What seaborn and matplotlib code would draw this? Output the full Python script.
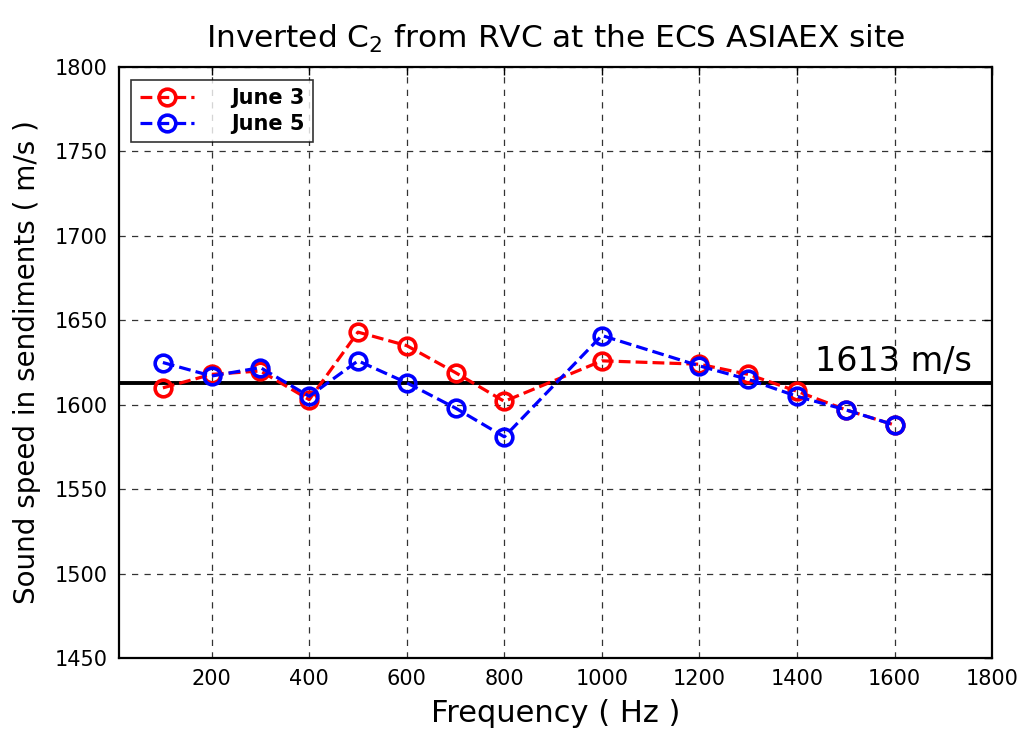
import matplotlib
matplotlib.use('Agg')
import matplotlib.pyplot as plt
import seaborn as sns
import pandas as pd

# frequencies (Hz) and inverted sound speeds (m/s)
freq_june3 = [100, 200, 300, 400, 500, 600, 700, 800, 1000, 1200, 1300, 1400, 1500, 1600]
speed_june3 = [1610, 1618, 1620, 1603, 1643, 1635, 1619, 1602, 1626, 1624, 1618, 1608, 1597, 1588]
freq_june5 = [100, 200, 300, 400, 500, 600, 700, 800, 1000, 1200, 1300, 1400, 1500, 1600]
speed_june5 = [1625, 1617, 1622, 1605, 1626, 1613, 1598, 1581, 1641, 1623, 1615, 1605, 1597, 1588]
mean_speed = 1613
x_ticks = [200, 400, 600, 800, 1000, 1200, 1400, 1600, 1800]
y_ticks = [1450, 1500, 1550, 1600, 1650, 1700, 1750, 1800]

sns.set_style('white')
plt.rcParams['font.family'] = ['DejaVu Sans']
plt.rcParams['text.color'] = 'black'
plt.rcParams['axes.labelcolor'] = 'black'

df3 = pd.DataFrame({'freq': freq_june3, 'speed': speed_june3})
df5 = pd.DataFrame({'freq': freq_june5, 'speed': speed_june5})

fig = plt.figure(figsize=(10.24, 7.34), dpi=100)
ax = fig.add_axes([0.1162, 0.1035, 0.8526, 0.8052])

line_kw = dict(linestyle='--', linewidth=2.3, marker='o', markersize=12,
               markerfacecolor='none', markeredgewidth=2.6)
sns.lineplot(data=df3, x='freq', y='speed', ax=ax, color='#ff0000',
             markeredgecolor='#ff0000', label='June 3', zorder=4, **line_kw)
sns.lineplot(data=df5, x='freq', y='speed', ax=ax, color='#0000ff',
             markeredgecolor='#0000ff', label='June 5', zorder=5, **line_kw)
ax.axhline(mean_speed, color='black', linewidth=2.8, zorder=3)
ax.text(1437, mean_speed + 3, f'{mean_speed} m/s', fontsize=24, ha='left', va='bottom')

ax.set_xlim(10, 1800)
ax.set_ylim(1450, 1800)
ax.set_xticks(x_ticks)
ax.set_yticks(y_ticks)
ax.grid(True, linestyle=(0, (5, 5)), color='#333333', linewidth=0.9)
ax.tick_params(direction='in', length=6, width=1, labelsize=15, colors='black',
               top=True, right=True, pad=8)
for s in ax.spines.values():
    s.set_linewidth(1.6)
    s.set_color('black')

ax.set_title('Inverted C$_2$ from RVC at the ECS ASIAEX site', fontsize=22.5, pad=14)
ax.set_xlabel('Frequency ( Hz )', fontsize=22, labelpad=7)
ax.set_ylabel('Sound speed in sendiments ( m/s )', fontsize=20, labelpad=10)

leg = ax.legend(loc='upper left', prop={'weight': 'bold', 'size': 15},
                frameon=True, fancybox=False, edgecolor='black',
                handlelength=2.6, borderaxespad=0.6, handletextpad=1.8,
                labelspacing=0.3)
leg.get_frame().set_linewidth(1.2)
for t in leg.get_texts():
    t.set_color('black')

fig.savefig('out.png', dpi=100)
